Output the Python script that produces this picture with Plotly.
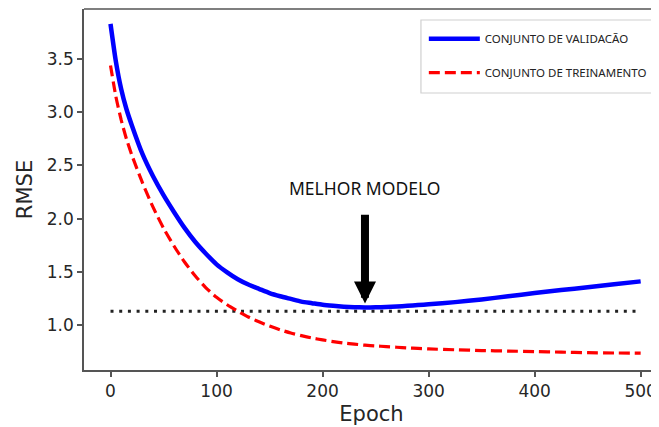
import plotly.graph_objects as go

epochs = [0, 5, 10, 15, 20, 30, 40, 50, 60, 70, 80, 90, 100, 110, 120, 130, 140, 150,
          160, 170, 180, 190, 200, 210, 220, 230, 240, 250, 260, 270, 280, 290, 300,
          325, 350, 375, 400, 425, 450, 475, 500]
val_rmse = [3.83, 3.48, 3.22, 3.03, 2.88, 2.61, 2.40, 2.22, 2.06, 1.91, 1.78, 1.67, 1.57,
            1.495, 1.43, 1.38, 1.34, 1.30, 1.27, 1.245, 1.22, 1.205, 1.19, 1.18, 1.172,
            1.167, 1.165, 1.166, 1.169, 1.174, 1.18, 1.187, 1.195,
            1.215, 1.24, 1.27, 1.30, 1.328, 1.355, 1.383, 1.41]
train_rmse = [3.44, 3.15, 2.93, 2.75, 2.60, 2.34, 2.11, 1.91, 1.74, 1.59, 1.46, 1.35, 1.26,
              1.19, 1.13, 1.075, 1.03, 0.99, 0.955, 0.925, 0.90, 0.878, 0.86, 0.844, 0.83,
              0.82, 0.81, 0.803, 0.797, 0.791, 0.785, 0.78, 0.775,
              0.767, 0.76, 0.755, 0.75, 0.745, 0.74, 0.737, 0.735]
ref_level = 1.13
x_ticks = [0, 100, 200, 300, 400, 500]
y_ticks = [1.0, 1.5, 2.0, 2.5, 3.0, 3.5]
val_label = "CONJUNTO DE VALIDACÃO"
train_label = "CONJUNTO DE TREINAMENTO"
best_label = "MELHOR MODELO"

best_i = min(range(len(val_rmse)), key=lambda i: val_rmse[i])
best_epoch = epochs[best_i]
best_rmse = val_rmse[best_i]

fig = go.Figure()
fig.add_trace(go.Scatter(
    x=[epochs[0], epochs[-1]], y=[ref_level, ref_level], mode="lines",
    line=dict(color="#222222", width=3, dash="3px,5.7px"), showlegend=False,
    hoverinfo="skip"))
fig.add_trace(go.Scatter(
    x=epochs, y=val_rmse, mode="lines", name=val_label, legendgroup="a",
    line=dict(color="#0000ff", width=4.5, shape="spline", smoothing=0.6)))
fig.add_trace(go.Scatter(
    x=epochs, y=train_rmse, mode="lines", name=train_label, legendgroup="b",
    line=dict(color="#ff0000", width=3.2, dash="11px,5px", shape="spline", smoothing=0.6)))

fig.add_annotation(
    x=best_epoch, y=best_rmse, ax=best_epoch, ay=2.05, axref="x", ayref="y",
    xref="x", yref="y", text="", showarrow=True, arrowhead=2, arrowsize=0.55,
    arrowwidth=8, arrowcolor="black", standoff=4)
fig.add_annotation(
    x=best_epoch, y=2.29, xref="x", yref="y", text=best_label, showarrow=False,
    font=dict(family="Noto Sans", size=17.5, color="#111111"))

axis_color = "#555555"
fig.add_shape(type="line", xref="paper", yref="paper", x0=0, x1=1, y0=1, y1=1,
              line=dict(color=axis_color, width=1.5))
# legend frame
fig.add_shape(type="rect", xref="paper", yref="paper", x0=0.586, x1=0.9948,
              y0=0.7673, y1=0.9695, line=dict(color="#d0d0d0", width=1.2),
              fillcolor="white", layer="above")

# The page body adds an 8px margin, so the figure is sized and padded to fit.
fig.update_layout(
    width=651, height=419,
    margin=dict(l=76, r=0, t=1, b=57),
    paper_bgcolor="white", plot_bgcolor="white",
    font=dict(family="DejaVu Sans", color="#262626"),
    legend=dict(
        x=0.591, y=0.958, xanchor="left", yanchor="top",
        bgcolor="rgba(0,0,0,0)", borderwidth=0,
        font=dict(family="Noto Sans", size=11.5, color="#222222"),
        traceorder="grouped", tracegroupgap=15, itemwidth=51),
    xaxis=dict(
        range=[-25, 517.3], tickvals=x_ticks, ticks="outside", ticklen=5,
        tickwidth=1.5, tickcolor=axis_color, showline=True, linecolor=axis_color,
        linewidth=1.5, showgrid=False, zeroline=False, automargin=False,
        tickfont=dict(size=17, color="#262626"),
        title=dict(text="Epoch", font=dict(size=21, color="#262626"), standoff=6)),
    yaxis=dict(
        range=[0.577, 3.97], tickvals=y_ticks, tickformat=".1f", ticks="outside",
        ticklen=5, tickwidth=1.5, tickcolor=axis_color, showline=True,
        linecolor=axis_color, linewidth=1.5, showgrid=False, zeroline=False,
        automargin=False,
        tickfont=dict(size=17, color="#262626"),
        title=dict(text="RMSE", font=dict(size=21, color="#262626"), standoff=8)),
)

fig.write_html("out.html")
